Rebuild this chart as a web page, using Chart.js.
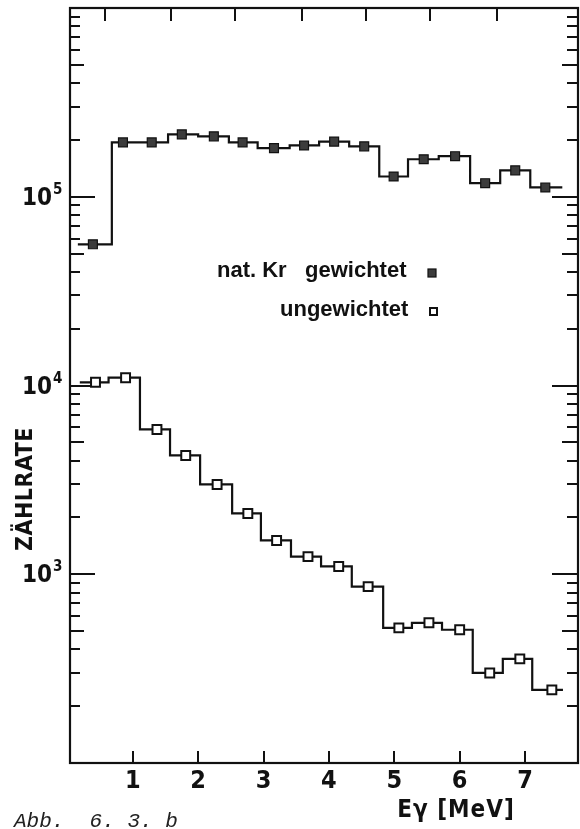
<!DOCTYPE html>
<html>
<head>
<meta charset="utf-8">
<script src="https://cdn.jsdelivr.net/npm/chart.js@4.4.1/dist/chart.umd.min.js"></script>
<style>
  html, body { margin: 0; padding: 0; background: #fff; }
  canvas { display: block; }
</style>
</head>
<body>
<canvas id="spectrum" width="580" height="829"></canvas>
<script>
// nat. Kr, weighted: histogram bin edges [MeV], marker energies [MeV], counts per bin
const weightedEdges   = [0.16, 0.68, 1.08, 1.54, 2.00, 2.47, 2.91, 3.40, 3.85, 4.31, 4.77, 5.21, 5.68, 6.16, 6.62, 7.08, 7.57];
const weightedEnergy  = [0.39, 0.85, 1.29, 1.75, 2.24, 2.68, 3.16, 3.62, 4.08, 4.54, 4.99, 5.45, 5.93, 6.39, 6.85, 7.31];
const weightedCounts  = [56000, 194000, 194000, 214000, 209000, 194000, 181000, 187000, 196000, 185000, 128000, 158000, 164000, 118000, 138000, 112000];

// unweighted: histogram bin edges [MeV], marker energies [MeV], counts per bin
const unweightedEdges  = [0.19, 0.63, 1.11, 1.57, 2.03, 2.52, 2.96, 3.42, 3.88, 4.35, 4.83, 5.27, 5.73, 6.20, 6.66, 7.11, 7.58];
const unweightedEnergy = [0.43, 0.89, 1.37, 1.81, 2.29, 2.76, 3.20, 3.68, 4.15, 4.60, 5.07, 5.53, 6.00, 6.46, 6.92, 7.41];
const unweightedCounts = [10400, 11000, 5850, 4260, 2990, 2100, 1510, 1240, 1100, 860, 520, 553, 508, 300, 356, 244];

// axis ticks
const energyTicks   = [1, 2, 3, 4, 5, 6, 7];
const topEdgeTicks  = [0.57, 1.58, 2.56, 3.59, 4.57, 5.55, 6.57];
const decadeTicks   = [1e3, 1e4, 1e5];
const decadeLabels  = ['3', '4', '5'];
const minorMantissa = [2, 3, 4, 5, 6, 7, 8, 9];
const minorDecades  = [1e2, 1e3, 1e4, 1e5];

const INK = '#111';
const NARROW = '"Liberation Sans Narrow", "DejaVu Sans Condensed", "Liberation Sans", sans-serif';

function histogramPoints(edges, counts) {
  return edges.map((e, i) => ({ x: e, y: counts[Math.min(i, counts.length - 1)] }));
}
function markerPoints(energy, counts) {
  return energy.map((e, i) => ({ x: e, y: counts[i] }));
}

// frame, inward ticks, axis labels, legend and caption
const decorations = {
  id: 'decorations',
  beforeDatasetsDraw(chart) {
    const { ctx, chartArea: a, scales: { x, y } } = chart;
    ctx.save();
    ctx.strokeStyle = INK;
    ctx.lineWidth = 2.2;
    ctx.strokeRect(a.left, a.top, a.right - a.left, a.bottom - a.top);

    ctx.lineWidth = 2;
    ctx.beginPath();
    // energy ticks on the bottom edge, pointing up
    energyTicks.forEach(v => {
      const px = Math.round(x.getPixelForValue(v));
      ctx.moveTo(px, a.bottom); ctx.lineTo(px, a.bottom - 12);
    });
    // ticks on the top edge, pointing down
    topEdgeTicks.forEach(v => {
      const px = Math.round(x.getPixelForValue(v));
      ctx.moveTo(px, a.top); ctx.lineTo(px, a.top + 13);
    });
    // decade ticks, both sides
    decadeTicks.forEach(v => {
      const py = Math.round(y.getPixelForValue(v));
      ctx.moveTo(a.left, py); ctx.lineTo(a.left + 25, py);
      ctx.moveTo(a.right, py); ctx.lineTo(a.right - 26, py);
    });
    // minor log ticks, both sides
    minorDecades.forEach(d => {
      minorMantissa.forEach(m => {
        const py = Math.round(y.getPixelForValue(m * d));
        const lenL = m === 5 ? 14 : 10;
        const lenR = m === 5 ? 16 : 11;
        ctx.moveTo(a.left, py); ctx.lineTo(a.left + lenL, py);
        ctx.moveTo(a.right, py); ctx.lineTo(a.right - lenR, py);
      });
    });
    ctx.stroke();
    ctx.restore();
  },
  afterDatasetsDraw(chart) {
    const { ctx, chartArea: a, scales: { x, y } } = chart;
    ctx.save();
    ctx.fillStyle = INK;

    // energy tick labels
    ctx.font = 'bold 25px ' + NARROW;
    ctx.textAlign = 'center';
    ctx.textBaseline = 'alphabetic';
    energyTicks.forEach(v => {
      ctx.fillText(String(v), x.getPixelForValue(v), a.bottom + 25);
    });

    // decade labels 10^n
    decadeTicks.forEach((v, i) => {
      const py = y.getPixelForValue(v);
      ctx.font = 'bold 24px ' + NARROW;
      ctx.textAlign = 'right';
      ctx.fillText('10', 52, py + 8);
      ctx.font = 'bold 15px ' + NARROW;
      ctx.textAlign = 'left';
      ctx.fillText(decadeLabels[i], 53, py - 3);
    });

    // axis titles
    ctx.font = 'bold 24px ' + NARROW;
    ctx.textAlign = 'center';
    ctx.letterSpacing = '1px';
    ctx.fillText('E\u03b3 [MeV]', 456, a.bottom + 54);
    ctx.save();
    ctx.translate(32, 489);
    ctx.rotate(-Math.PI / 2);
    ctx.font = 'bold 23px ' + NARROW;
    ctx.letterSpacing = '0.5px';
    ctx.fillText('ZÄHLRATE', 0, 0);
    ctx.restore();
    ctx.letterSpacing = '0px';

    // legend
    ctx.font = 'bold 22px "Liberation Sans", Arial, sans-serif';
    ctx.textAlign = 'left';
    ctx.fillText('nat. Kr', 217, 277);
    ctx.fillText('gewichtet', 305, 277);
    ctx.fillText('ungewichtet', 280, 316);
    ctx.fillStyle = '#3c3c3c';
    ctx.strokeStyle = INK;
    ctx.lineWidth = 1.2;
    ctx.fillRect(428, 269, 8, 8);
    ctx.strokeRect(428, 269, 8, 8);
    ctx.fillStyle = '#fff';
    ctx.lineWidth = 2;
    ctx.fillRect(430, 308, 7, 7);
    ctx.strokeRect(430, 308, 7, 7);

    // caption
    ctx.fillStyle = '#222';
    ctx.font = 'italic 21px "Liberation Mono", "DejaVu Sans Mono", monospace';
    ctx.textAlign = 'left';
    ctx.fillText('Abb.  6. 3. b', 14, 827);
    ctx.restore();
  }
};

new Chart(document.getElementById('spectrum'), {
  type: 'scatter',
  data: {
    datasets: [
      {
        label: 'nat. Kr gewichtet',
        data: markerPoints(weightedEnergy, weightedCounts),
        showLine: false,
        pointStyle: 'rect',
        pointRadius: 6.3,
        backgroundColor: '#3c3c3c',
        borderColor: INK,
        pointBorderWidth: 1.2
      },
      {
        label: 'ungewichtet',
        data: markerPoints(unweightedEnergy, unweightedCounts),
        showLine: false,
        pointStyle: 'rect',
        pointRadius: 6.3,
        backgroundColor: '#fff',
        borderColor: INK,
        pointBorderWidth: 2
      },
      {
        label: 'gewichtet (histogram)',
        data: histogramPoints(weightedEdges, weightedCounts),
        showLine: true,
        stepped: 'before',
        borderColor: INK,
        borderWidth: 2.2,
        pointRadius: 0,
        fill: false
      },
      {
        label: 'ungewichtet (histogram)',
        data: histogramPoints(unweightedEdges, unweightedCounts),
        showLine: true,
        stepped: 'before',
        borderColor: INK,
        borderWidth: 2.2,
        pointRadius: 0,
        fill: false
      }
    ]
  },
  options: {
    responsive: false,
    animation: false,
    devicePixelRatio: 1,
    layout: { autoPadding: false, padding: { left: 70, top: 8, right: 2, bottom: 66 } },
    plugins: { legend: { display: false }, tooltip: { enabled: false } },
    scales: {
      x: { type: 'linear', min: 0.04, max: 7.81, display: false },
      y: { type: 'logarithmic', min: 100, max: 1e6, display: false }
    }
  },
  plugins: [decorations]
});
</script>
</body>
</html>
